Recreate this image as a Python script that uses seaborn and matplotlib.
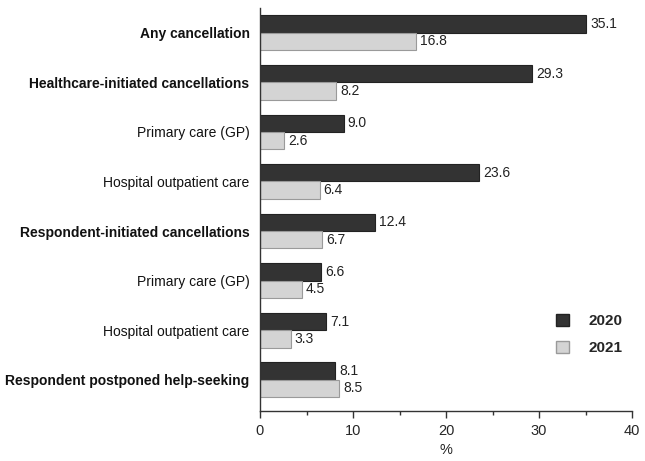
import matplotlib
matplotlib.use("Agg")
import matplotlib.pyplot as plt
import seaborn as sns
import pandas as pd
from matplotlib.ticker import MultipleLocator
from matplotlib.patches import Patch

categories = ["Any cancellation", "Healthcare-initiated cancellations", "Primary care (GP)",
              "Hospital outpatient care", "Respondent-initiated cancellations", "Primary care (GP)",
              "Hospital outpatient care", "Respondent postponed help-seeking"]
bold_rows = [0, 1, 4, 7]
values_2020 = [35.1, 29.3, 9.0, 23.6, 12.4, 6.6, 7.1, 8.1]
values_2021 = [16.8, 8.2, 2.6, 6.4, 6.7, 4.5, 3.3, 8.5]
years = ["2020", "2021"]

keys = [f"r{i}" for i in range(len(categories))]
df = pd.DataFrame({
    "key": keys * 2,
    "value": values_2020 + values_2021,
    "year": [years[0]] * len(categories) + [years[1]] * len(categories),
})

sns.set_style("white")
plt.rcParams["font.family"] = ["Liberation Sans", "DejaVu Sans"]

fig = plt.figure(figsize=(6.45, 4.61), dpi=100)
ax = fig.add_axes([260 / 645, 1 - 411 / 461, (632 - 260) / 645, (411 - 8) / 461])

colors = {"2020": "#333333", "2021": "#d4d4d4"}
edges = {"2020": "#222222", "2021": "#9a9a9a"}
sns.barplot(data=df, y="key", x="value", hue="year", order=keys,
            hue_order=years, palette=colors, orient="h", width=0.7, ax=ax,
            legend=False, saturation=1)

for cont, yr in zip(ax.containers, years):
    for bar in cont:
        bar.set_edgecolor(edges[yr])
        bar.set_linewidth(0.8)
    ax.bar_label(cont, fmt="%.1f", padding=3, fontsize=10, color="#222222")

ax.set_xlim(0, 40)
ax.set_ylim(7.63, -0.5)
ax.xaxis.set_major_locator(MultipleLocator(10))
ax.xaxis.set_minor_locator(MultipleLocator(5))
ax.tick_params(axis="x", which="major", direction="out", length=5, width=1, color="#333333",
               labelsize=10.5, pad=4, bottom=True)
ax.tick_params(axis="x", which="minor", direction="out", length=3, width=1, color="#333333", bottom=True)
ax.tick_params(axis="y", length=0, labelsize=10, pad=7.5)
ax.set_yticks(range(len(categories)))
ax.set_yticklabels(categories)
ax.set_xlabel("%", fontsize=10.5, labelpad=4)
ax.set_ylabel("")
for i, lab in enumerate(ax.get_yticklabels()):
    if i in bold_rows:
        lab.set_fontweight("bold")
    lab.set_color("#111111")

for s in ["top", "right"]:
    ax.spines[s].set_visible(False)
for s in ["left", "bottom"]:
    ax.spines[s].set_color("#333333")
    ax.spines[s].set_linewidth(1)

handles = [Patch(facecolor=colors[y], edgecolor=edges[y], label=y) for y in years]
leg = ax.legend(handles=handles, loc="upper left", bbox_to_anchor=(0.76, 0.275), frameon=False,
                handlelength=0.8, handleheight=0.8, handletextpad=1.3, labelspacing=0.85,
                prop={"weight": "bold", "size": 11})

fig.savefig("out.png", dpi=100)
